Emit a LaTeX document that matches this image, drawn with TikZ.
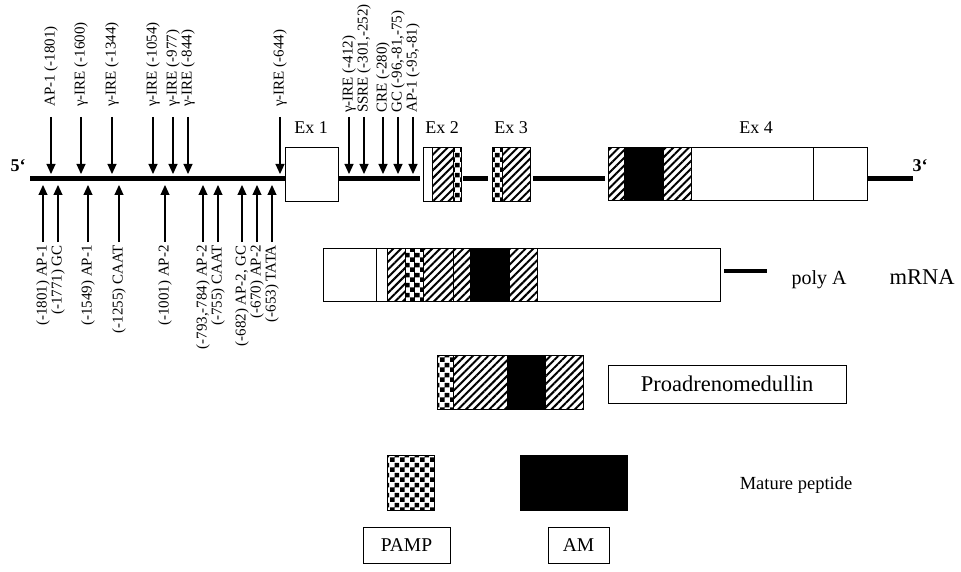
\documentclass[tikz,border=0pt]{standalone}
\usepackage{fontspec}
\setmainfont{Liberation Serif}
\usetikzlibrary{arrows.meta,patterns,patterns.meta}

% chequered fill for the PAMP parts
\pgfdeclarepatternformonly{chequer}{\pgfpointorigin}{\pgfqpoint{10pt}{10pt}}{\pgfqpoint{10pt}{10pt}}{%
  \pgfpathrectangle{\pgfpointorigin}{\pgfqpoint{5pt}{5pt}}%
  \pgfpathrectangle{\pgfqpoint{5pt}{5pt}}{\pgfqpoint{5pt}{5pt}}%
  \pgfusepath{fill}}

\begin{document}
\begin{tikzpicture}[x=1pt, y=-1pt,
    site/.style={font=\fontsize{15}{17}\selectfont, rotate=90, inner sep=1pt},
    arr/.style={-{Triangle[width=9pt,length=10pt]}, line width=1.1pt},
    dna/.style={line width=4.5pt},
    seg/.style={draw, line width=1pt},
    hatch/.style={seg, pattern={Lines[angle=45,distance=5.5pt,line width=2pt]}},
    chk/.style={seg, pattern=chequer},
    blk/.style={seg, fill=black},
    exlbl/.style={font=\fontsize{18}{20}\selectfont},
    tag/.style={draw, line width=1pt, inner sep=0pt}]

\useasboundingbox (0,0) rectangle (961,572);

% gene
\draw[dna] (30,178.5) -- (285,178.5);
\draw[dna] (338,178.5) -- (420,178.5);
\draw[dna] (463,178.5) -- (488,178.5);
\draw[dna] (533,178.5) -- (605,178.5);
\draw[dna] (867,178.5) -- (913,178.5);
\node[font=\fontsize{18}{20}\selectfont\bfseries] (five) at (18,166) {5`};
\node[font=\fontsize{18}{20}\selectfont\bfseries] (three) at (920,166) {3`};

\draw[seg, fill=white] (285,148) rectangle (338,202);
\draw[seg, fill=white] (423,148) rectangle (461,202);
\draw[hatch] (432,148) rectangle (453,202);
\draw[chk] (453,148) rectangle (461,202);
\draw[chk] (492,148) rectangle (502,202);
\draw[hatch] (502,148) rectangle (530,202);
\draw[seg, fill=white] (608,148) rectangle (867,201);
\foreach \a/\b/\s in {608/624/hatch, 624/663/blk, 663/691/hatch}
    \draw[\s] (\a,148) rectangle (\b,201);
\draw[seg] (813,148) -- (813,201);

\node[exlbl] (ex1) at (311,128) {Ex 1};
\node[exlbl] (ex2) at (442,128) {Ex 2};
\node[exlbl] (ex3) at (511,128) {Ex 3};
\node[exlbl] (ex4) at (756,128) {Ex 4};

% sites above the line
\foreach \x/\lab/\y [count=\i] in {51/{AP-1 (-1801)}/108, 81/{γ-IRE (-1600)}/108,
        112/{γ-IRE (-1344)}/108, 153/{γ-IRE (-1054)}/108, 173/{γ-IRE (-977)}/108,
        188/{γ-IRE (-844)}/108, 280/{γ-IRE (-644)}/108, 349/{γ-IRE (-412)}/114,
        364/{SSRE (-301,-252)}/114, 383/{CRE (-280)}/114,
        398/{GC (-96,-81,-75)}/114, 413/{AP-1 (-95,-81)}/114} {
    \node[site, anchor=west] (up\i) at (\x,\y) {\lab};
    \coordinate (ua\i) at (\x,117);
    \coordinate (ub\i) at (\x,174);
    \draw[arr] (ua\i) -- (ub\i);
}

% sites below the line
\foreach \x/\lab [count=\i] in {43/{(-1801) AP-1}, 58/{(-1771) GC}, 88/{(-1549) AP-1},
        119/{(-1255) CAAT}, 165/{(-1001) AP-2}, 203/{(-793,-784) AP-2},
        218/{(-755) CAAT}, 242/{(-682) AP-2, GC}, 257/{(-670) AP-2},
        272/{(-653) TATA}} {
    \node[site, anchor=east] (dn\i) at (\x,244) {\lab};
    \coordinate (da\i) at (\x,242);
    \coordinate (db\i) at (\x,185);
    \draw[arr] (da\i) -- (db\i);
}

% mRNA
\draw[seg, fill=white] (323,248) rectangle (720,301);
\foreach \a/\b/\s in {387/405/hatch, 405/414/chk, 414/423/chk, 423/453/hatch,
                      453/470/hatch, 470/509/blk, 509/537/hatch}
    \draw[\s] (\a,248) rectangle (\b,301);
\draw[seg] (376,248) -- (376,301);
\draw[line width=4pt] (724,271) -- (767,271);
\node[font=\fontsize{20}{22}\selectfont] (polya) at (819,280) {poly A};
\node[font=\fontsize{22.5}{24}\selectfont] (mrna) at (922,277) {mRNA};

% precursor
\foreach \a/\b/\s in {437/453/chk, 453/507/hatch, 507/545/blk, 545/583/hatch}
    \draw[\s] (\a,355) rectangle (\b,409);
\node[tag, minimum width=238pt, minimum height=38pt,
      font=\fontsize{22.5}{24}\selectfont] (pro) at (727,384) {Proadrenomedullin};

% mature peptides
\draw[chk] (387,455) rectangle (434,510);
\draw[blk] (520,455) rectangle (627,510);
\node[font=\fontsize{18.5}{20}\selectfont] (mature) at (796,485) {Mature peptide};
\node[tag, minimum width=87pt, minimum height=36pt,
      font=\fontsize{19.5}{21}\selectfont] (pamp) at (406.5,545) {PAMP};
\node[tag, minimum width=61pt, minimum height=36pt,
      font=\fontsize{19.5}{21}\selectfont] (am) at (578.5,545) {AM};
\end{tikzpicture}
\end{document}
